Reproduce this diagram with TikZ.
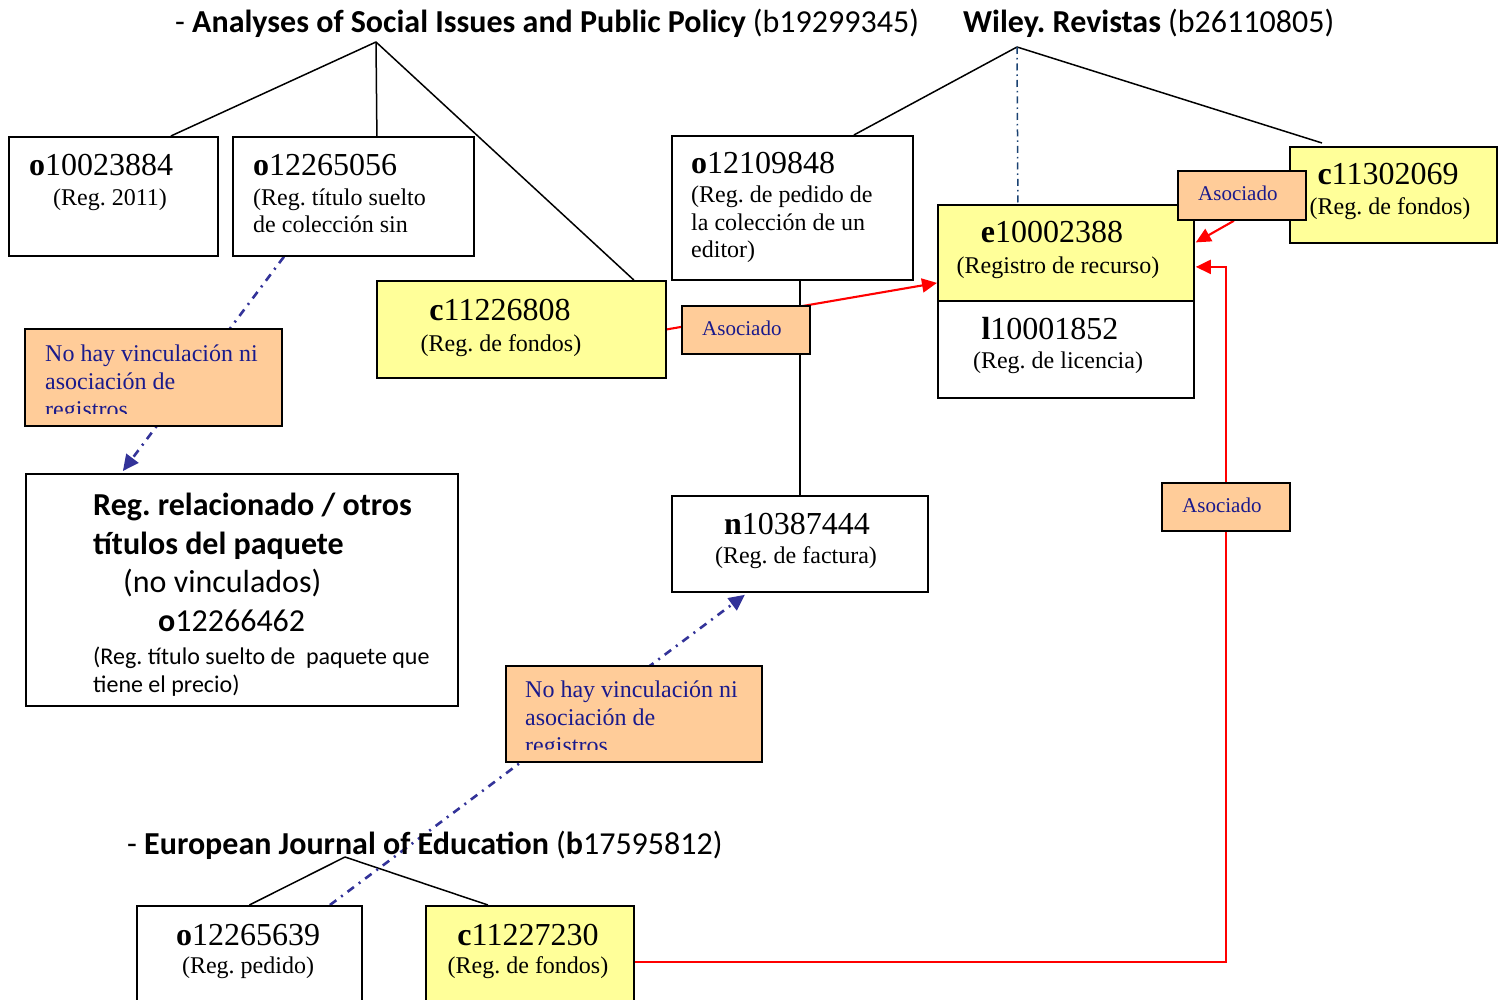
\documentclass[tikz,border=0pt]{standalone}
\usepackage{fontspec}
\setmainfont{Liberation Serif}
\newfontfamily\calfont{Carlito}
\usetikzlibrary{arrows.meta,calc}
\pgfdeclarelayer{bg}
\pgfsetlayers{bg,main}
\definecolor{yel}{HTML}{FFFF99}
\definecolor{ora}{HTML}{FFCC99}
\definecolor{navytxt}{HTML}{1A1A8C}
\definecolor{linkblue}{HTML}{333399}
\definecolor{wileyblue}{HTML}{1A4272}
\frenchspacing
\begin{document}
\frenchspacing
\begin{tikzpicture}[x=1pt,y=-1pt,
  box/.style={draw=black, line width=1.8pt, rectangle, inner sep=0pt, anchor=north west, fill=white},
  ybox/.style={box, fill=yel},
  obox/.style={box, fill=ora},
  big/.style={font=\fontsize{32}{38}\selectfont, inner sep=0pt},
  small/.style={font=\fontsize{24}{28}\selectfont, inner sep=0pt},
  asoc/.style={font=\fontsize{21}{25}\selectfont, text=navytxt, inner sep=0pt, anchor=base west},
  notxt/.style={font=\fontsize{24}{28}\selectfont, text=navytxt, inner sep=0pt, anchor=base west},
  cal/.style={font=\calfont\fontsize{32}{38}\selectfont, inner sep=0pt, anchor=base west},
  calsmall/.style={font=\calfont\fontsize{24}{28}\selectfont, inner sep=0pt, anchor=base west},
  tree/.style={line width=1.5pt},
  assoc/.style={red, line width=2.1pt, -{Triangle[length=15pt,width=14pt]}},
  nolink/.style={linkblue, line width=2.6pt, dash pattern=on 8pt off 6pt on 2pt off 6pt, -{Triangle[length=16pt,width=15pt]}},
  wileylink/.style={wileyblue, line width=1.5pt, dash pattern=on 7pt off 4pt on 1.5pt off 4pt}
]
\clip (0,0) rectangle (1498,1000);
\begin{pgfonlayer}{bg}
\fill[white] (0,0) rectangle (1498,1000);
\end{pgfonlayer}

% titles
\node[cal] (t1) at (175,33) {- \textbf{Analyses of Social Issues and Public Policy} (b19299345)};
\node[cal] (t2) at (963,33) {\textbf{Wiley. Revistas} (b26110805)};
\node[cal] (t3) at (127,854) {- \textbf{European Journal of Education} (\textbf{b}17595812)};
\coordinate (A1) at (376,42);
\coordinate (A2) at (1017,47);
\coordinate (A3) at (345,857);

% boxes
\node[box, minimum width=209pt, minimum height=119pt] (o1) at (8,136) {};
\node[box, minimum width=241pt, minimum height=119pt] (o2) at (232,136) {};
\node[ybox, minimum width=289pt, minimum height=97pt] (c1) at (376,280) {};
\node[box, minimum width=241pt, minimum height=144pt] (o3) at (671,135) {};
\node[ybox, minimum width=256pt, minimum height=96pt] (e1) at (937,204) {};
\node[box, minimum width=256pt, minimum height=97pt] (l1) at (937,300) {};
\node[ybox, minimum width=207pt, minimum height=96pt] (c2) at (1289,146) {};
\node[obox, minimum width=257pt, minimum height=97pt] (nh1) at (24,328) {};
\node[obox, minimum width=256pt, minimum height=96pt] (nh2) at (505,665) {};
\node[box, minimum width=432pt, minimum height=232pt] (rel) at (25,473) {};
\node[box, minimum width=256pt, minimum height=96pt] (n1) at (671,495) {};
\node[box, minimum width=225pt, minimum height=130pt] (o4) at (136,905) {};
\node[ybox, minimum width=208pt, minimum height=130pt] (c3) at (425,905) {};
\node[obox, minimum width=128pt, minimum height=48pt] (as1) at (681,305) {};
\node[obox, minimum width=128pt, minimum height=49pt] (as2) at (1177,170) {};
\node[obox, minimum width=128pt, minimum height=48pt] (as3) at (1161,482) {};

% connectors (behind boxes)
\begin{pgfonlayer}{bg}
\draw[tree] (A1) -- ($(o1.north)+(57.5,0)$);
\draw[tree] (A1) -- ($(o2.north)+(23.5,0)$);
\draw[tree] (A1) -- ($(c1.north east)+(-33,0)$);
\draw[tree] (A2) -- ($(o3.north)+(61.5,0)$);
\draw[tree] (A2) -- ($(c2.north west)+(33,-3)$);
\draw[wileylink] (A2) -- ($(e1.north)+(-48,0)$);
\draw[tree] (A3) -- (o4.north);
\draw[tree] (A3) -- ($(c3.north)+(-42,0)$);
\draw[tree] (n1.north |- o3.south) -- (n1.north);
\draw[assoc] (c1.east) -- ($(e1.west)+(0,30)$);
\draw[assoc] ($(as2.south)+(-8,0)$) -- ($(e1.east)+(1,-10.5)$);
\draw[assoc] ($(c3.north east)+(0,57)$) -| (as3.center) |- ($(e1.east)+(1,14)$);
\draw[nolink] ($(o2.south)+(-69.5,0)$) -- ($(rel.north)+(-119,-2)$);
\draw[nolink] ($(o4.north)+(80.5,0)$) -- ($(n1.south)+(-55,2)$);
\end{pgfonlayer}

% texts
\node[big, anchor=base west] (o1a) at (29,176) {\textbf{o}10023884};
\node[small, anchor=base west] (o1b) at (53,206) {(Reg. 2011)};
\node[big, anchor=base west] (o2a) at (253,176) {\textbf{o}12265056};
\node[small, anchor=base west] (o2b) at (253,206) {(Reg. título suelto};
\node[small, anchor=base west] (o2c) at (253,233) {de colección sin};
\node[big, anchor=base] (c1a) at (500,320) {\textbf{c}11226808};
\node[small, anchor=base] (c1b) at (501,351) {(Reg. de fondos)};
\node[big, anchor=base west] (o3a) at (691,174) {\textbf{o}12109848};
\node[small, anchor=base west] (o3b) at (691,203) {(Reg. de pedido de};
\node[small, anchor=base west] (o3c) at (691,231) {la colección de un};
\node[small, anchor=base west] (o3d) at (691,258) {editor)};
\node[big, anchor=base] (e1a) at (1052,243) {\textbf{e}10002388};
\node[small, anchor=base] (e1b) at (1058,273) {(Registro de recurso)};
\node[big, anchor=base] (l1a) at (1050,339) {\textbf{l}10001852};
\node[small, anchor=base] (l1b) at (1058,368) {(Reg. de licencia)};
\node[big, anchor=base] (c2a) at (1388,185) {\textbf{c}11302069};
\node[small, anchor=base] (c2b) at (1390,215) {(Reg. de fondos)};
\node[big, anchor=base] (n1a) at (797,534) {\textbf{n}10387444};
\node[small, anchor=base] (n1b) at (796,563) {(Reg. de factura)};
\node[big, anchor=base] (o4a) at (248,945) {\textbf{o}12265639};
\node[small, anchor=base] (o4b) at (248,973) {(Reg. pedido)};
\node[big, anchor=base] (c3a) at (528,945) {\textbf{c}11227230};
\node[small, anchor=base] (c3b) at (528,973) {(Reg. de fondos)};
\node[asoc] (as1t) at (702,335) {Asociado};
\node[asoc] (as2t) at (1198,201) {Asociado};
\node[asoc] (as3t) at (1182,512) {Asociado};
\begin{scope}
\clip (24,328) rectangle (281,413);
\node[notxt] (nh1a) at (45,361) {No hay vinculación ni};
\node[notxt] (nh1b) at (45,389) {asociación de};
\node[notxt] (nh1c) at (45,417) {registros};
\end{scope}
\begin{scope}
\clip (505,665) rectangle (761,749);
\node[notxt] (nh2a) at (525,697) {No hay vinculación ni};
\node[notxt] (nh2b) at (525,725) {asociación de};
\node[notxt] (nh2c) at (525,753) {registros};
\end{scope}
\node[cal] (r1) at (93,515) {\textbf{Reg. relacionado / otros}};
\node[cal] (r2) at (93,554) {\textbf{títulos del paquete}};
\node[cal] (r3) at (123,592) {(no vinculados)};
\node[cal] (r4) at (158,631) {\textbf{o}12266462};
\node[calsmall] (r5) at (93,664) {(Reg. título suelto de\ \ paquete que};
\node[calsmall] (r6) at (93,692) {tiene el precio)};
\end{tikzpicture}
\end{document}
